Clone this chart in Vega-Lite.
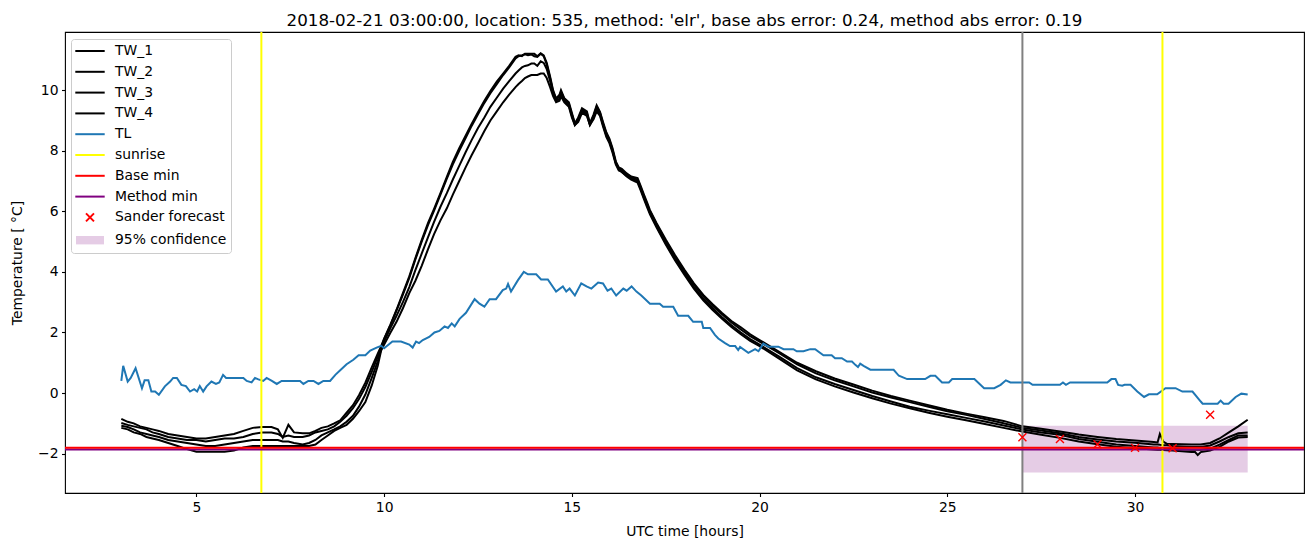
{
  "$schema": "https://vega.github.io/schema/vega-lite/v6.json",
  "width": 1239,
  "height": 461,
  "autosize": {"type": "none"},
  "padding": {"left": 65, "top": 32, "right": 9, "bottom": 54},
  "background": "white",
  "title": {"text": "2018-02-21 03:00:00, location: 535, method: 'elr', base abs error: 0.24, method abs error: 0.19", "font": "DejaVu Sans", "fontSize": 16.7, "fontWeight": "normal", "color": "black", "anchor": "middle", "baseline": "alphabetic", "offset": 8, "dy": 20},
  "config": {
    "view": {"stroke": "black", "strokeWidth": 1.1},
    "axis": {"domain": false, "grid": false, "ticks": true, "tickColor": "black", "tickSize": 3.5, "tickWidth": 1.1, "labelFont": "DejaVu Sans", "labelFontSize": 13.9, "labelColor": "black", "labelPadding": 3.5, "titleFont": "DejaVu Sans", "titleFontSize": 13.9, "titleColor": "black", "titleFontWeight": "normal"},
    "axisX": {"titlePadding": 11},
    "axisY": {"titlePadding": 13},
    "legend": {"orient": "none", "legendX": 6, "legendY": 7, "title": null, "labelFont": "DejaVu Sans", "labelFontSize": 13.9, "labelColor": "black", "symbolSize": 196, "symbolStrokeWidth": 2, "symbolOffset": 7, "labelOffset": 17, "padding": 4, "rowPadding": 5.8, "strokeColor": "#cccccc", "fillColor": "white", "cornerRadius": 3, "labelLimit": 300, "symbolOpacity": 1}
  },
  "datasets": {
    "tw": [
      {"t": 3.0, "TW_1": -0.85, "TW_2": -0.99, "TW_3": -1.08, "TW_4": -1.15},
      {"t": 3.17, "TW_1": -0.95, "TW_2": -1.05, "TW_3": -1.12, "TW_4": -1.2},
      {"t": 3.33, "TW_1": -1.0, "TW_2": -1.1, "TW_3": -1.2, "TW_4": -1.3},
      {"t": 3.5, "TW_1": -1.1, "TW_2": -1.15, "TW_3": -1.3, "TW_4": -1.35},
      {"t": 3.67, "TW_1": -1.15, "TW_2": -1.2, "TW_3": -1.35, "TW_4": -1.45},
      {"t": 3.83, "TW_1": -1.2, "TW_2": -1.3, "TW_3": -1.4, "TW_4": -1.5},
      {"t": 4.0, "TW_1": -1.25, "TW_2": -1.35, "TW_3": -1.45, "TW_4": -1.55},
      {"t": 4.25, "TW_1": -1.35, "TW_2": -1.45, "TW_3": -1.55, "TW_4": -1.65},
      {"t": 4.5, "TW_1": -1.4, "TW_2": -1.5, "TW_3": -1.6, "TW_4": -1.75},
      {"t": 4.75, "TW_1": -1.45, "TW_2": -1.55, "TW_3": -1.65, "TW_4": -1.85},
      {"t": 5.0, "TW_1": -1.5, "TW_2": -1.55, "TW_3": -1.7, "TW_4": -1.94},
      {"t": 5.25, "TW_1": -1.5, "TW_2": -1.6, "TW_3": -1.75, "TW_4": -1.94},
      {"t": 5.5, "TW_1": -1.45, "TW_2": -1.55, "TW_3": -1.75, "TW_4": -1.94},
      {"t": 5.75, "TW_1": -1.4, "TW_2": -1.5, "TW_3": -1.7, "TW_4": -1.94},
      {"t": 6.0, "TW_1": -1.35, "TW_2": -1.5, "TW_3": -1.65, "TW_4": -1.9},
      {"t": 6.25, "TW_1": -1.25, "TW_2": -1.45, "TW_3": -1.6, "TW_4": -1.8},
      {"t": 6.5, "TW_1": -1.15, "TW_2": -1.35, "TW_3": -1.55, "TW_4": -1.75},
      {"t": 6.75, "TW_1": -1.12, "TW_2": -1.3, "TW_3": -1.55, "TW_4": -1.75},
      {"t": 7.0, "TW_1": -1.12, "TW_2": -1.3, "TW_3": -1.55, "TW_4": -1.75},
      {"t": 7.17, "TW_1": -1.2, "TW_2": -1.35, "TW_3": -1.55, "TW_4": -1.75},
      {"t": 7.3, "TW_1": -1.48, "TW_2": -1.45, "TW_3": -1.6, "TW_4": -1.75},
      {"t": 7.45, "TW_1": -1.05, "TW_2": -1.4, "TW_3": -1.6, "TW_4": -1.75},
      {"t": 7.6, "TW_1": -1.3, "TW_2": -1.45, "TW_3": -1.65, "TW_4": -1.75},
      {"t": 7.83, "TW_1": -1.33, "TW_2": -1.45, "TW_3": -1.7, "TW_4": -1.75},
      {"t": 8.0, "TW_1": -1.33, "TW_2": -1.4, "TW_3": -1.65, "TW_4": -1.75},
      {"t": 8.17, "TW_1": -1.25, "TW_2": -1.3, "TW_3": -1.55, "TW_4": -1.7},
      {"t": 8.33, "TW_1": -1.15, "TW_2": -1.25, "TW_3": -1.4, "TW_4": -1.55},
      {"t": 8.5, "TW_1": -1.1, "TW_2": -1.2, "TW_3": -1.3, "TW_4": -1.4},
      {"t": 8.67, "TW_1": -1.0, "TW_2": -1.1, "TW_3": -1.2, "TW_4": -1.25},
      {"t": 8.83, "TW_1": -0.9, "TW_2": -0.95, "TW_3": -1.1, "TW_4": -1.15},
      {"t": 9.0, "TW_1": -0.65, "TW_2": -0.75, "TW_3": -0.95, "TW_4": -1.05},
      {"t": 9.17, "TW_1": -0.4, "TW_2": -0.5, "TW_3": -0.75, "TW_4": -0.85},
      {"t": 9.33, "TW_1": -0.07, "TW_2": -0.2, "TW_3": -0.45, "TW_4": -0.6},
      {"t": 9.5, "TW_1": 0.34, "TW_2": 0.2, "TW_3": -0.05, "TW_4": -0.3},
      {"t": 9.67, "TW_1": 0.85, "TW_2": 0.7, "TW_3": 0.5, "TW_4": 0.25},
      {"t": 9.83, "TW_1": 1.3, "TW_2": 1.2, "TW_3": 1.05, "TW_4": 0.9},
      {"t": 9.92, "TW_1": 1.55, "TW_2": 1.5, "TW_3": 1.45, "TW_4": 1.4},
      {"t": 10.0, "TW_1": 1.8, "TW_2": 1.78, "TW_3": 1.7, "TW_4": 1.6},
      {"t": 10.17, "TW_1": 2.27, "TW_2": 2.25, "TW_3": 2.15, "TW_4": 2.0},
      {"t": 10.33, "TW_1": 2.75, "TW_2": 2.72, "TW_3": 2.55, "TW_4": 2.35},
      {"t": 10.5, "TW_1": 3.3, "TW_2": 3.25, "TW_3": 3.0, "TW_4": 2.8},
      {"t": 10.67, "TW_1": 3.85, "TW_2": 3.8, "TW_3": 3.5, "TW_4": 3.3},
      {"t": 10.83, "TW_1": 4.45, "TW_2": 4.4, "TW_3": 4.05, "TW_4": 3.7},
      {"t": 11.0, "TW_1": 5.05, "TW_2": 5.0, "TW_3": 4.6, "TW_4": 4.2},
      {"t": 11.17, "TW_1": 5.62, "TW_2": 5.55, "TW_3": 5.15, "TW_4": 4.75},
      {"t": 11.33, "TW_1": 6.08, "TW_2": 6.02, "TW_3": 5.65, "TW_4": 5.25},
      {"t": 11.5, "TW_1": 6.6, "TW_2": 6.55, "TW_3": 6.15, "TW_4": 5.7},
      {"t": 11.67, "TW_1": 7.14, "TW_2": 7.08, "TW_3": 6.6, "TW_4": 6.1},
      {"t": 11.83, "TW_1": 7.63, "TW_2": 7.55, "TW_3": 7.05, "TW_4": 6.55},
      {"t": 12.0, "TW_1": 8.08, "TW_2": 8.0, "TW_3": 7.5, "TW_4": 7.0},
      {"t": 12.17, "TW_1": 8.5, "TW_2": 8.42, "TW_3": 7.95, "TW_4": 7.45},
      {"t": 12.33, "TW_1": 8.88, "TW_2": 8.82, "TW_3": 8.35, "TW_4": 7.85},
      {"t": 12.5, "TW_1": 9.27, "TW_2": 9.2, "TW_3": 8.75, "TW_4": 8.25},
      {"t": 12.67, "TW_1": 9.65, "TW_2": 9.58, "TW_3": 9.1, "TW_4": 8.65},
      {"t": 12.83, "TW_1": 9.97, "TW_2": 9.9, "TW_3": 9.45, "TW_4": 9.0},
      {"t": 13.0, "TW_1": 10.28, "TW_2": 10.2, "TW_3": 9.75, "TW_4": 9.3},
      {"t": 13.17, "TW_1": 10.55, "TW_2": 10.5, "TW_3": 10.05, "TW_4": 9.6},
      {"t": 13.33, "TW_1": 10.8, "TW_2": 10.75, "TW_3": 10.3, "TW_4": 9.85},
      {"t": 13.5, "TW_1": 11.1, "TW_2": 11.05, "TW_3": 10.55, "TW_4": 10.1},
      {"t": 13.58, "TW_1": 11.15, "TW_2": 11.12, "TW_3": 10.65, "TW_4": 10.2},
      {"t": 13.67, "TW_1": 11.12, "TW_2": 11.15, "TW_3": 10.75, "TW_4": 10.3},
      {"t": 13.75, "TW_1": 11.2, "TW_2": 11.18, "TW_3": 10.8, "TW_4": 10.4},
      {"t": 13.83, "TW_1": 11.2, "TW_2": 11.15, "TW_3": 10.82, "TW_4": 10.45},
      {"t": 13.92, "TW_1": 11.2, "TW_2": 11.18, "TW_3": 10.88, "TW_4": 10.5},
      {"t": 14.0, "TW_1": 11.2, "TW_2": 11.12, "TW_3": 10.88, "TW_4": 10.5},
      {"t": 14.08, "TW_1": 11.12, "TW_2": 11.1, "TW_3": 10.8, "TW_4": 10.5},
      {"t": 14.17, "TW_1": 11.22, "TW_2": 11.2, "TW_3": 10.95, "TW_4": 10.55},
      {"t": 14.25, "TW_1": 11.15, "TW_2": 11.12, "TW_3": 10.9, "TW_4": 10.55},
      {"t": 14.33, "TW_1": 10.9, "TW_2": 10.85, "TW_3": 10.7, "TW_4": 10.4},
      {"t": 14.42, "TW_1": 10.45, "TW_2": 10.4, "TW_3": 10.3, "TW_4": 10.1},
      {"t": 14.5, "TW_1": 10.0, "TW_2": 9.95, "TW_3": 9.9, "TW_4": 9.8},
      {"t": 14.58, "TW_1": 9.72, "TW_2": 9.7, "TW_3": 9.65, "TW_4": 9.6},
      {"t": 14.67, "TW_1": 9.85, "TW_2": 9.8, "TW_3": 9.72, "TW_4": 9.65},
      {"t": 14.71, "TW_1": 10.0, "TW_2": 9.95, "TW_3": 9.85, "TW_4": 9.8},
      {"t": 14.8, "TW_1": 9.73, "TW_2": 9.7, "TW_3": 9.65, "TW_4": 9.6},
      {"t": 14.92, "TW_1": 9.6, "TW_2": 9.55, "TW_3": 9.5, "TW_4": 9.45},
      {"t": 15.0, "TW_1": 9.25, "TW_2": 9.2, "TW_3": 9.15, "TW_4": 9.1},
      {"t": 15.08, "TW_1": 8.9, "TW_2": 8.9, "TW_3": 8.85, "TW_4": 8.85},
      {"t": 15.17, "TW_1": 9.1, "TW_2": 9.05, "TW_3": 9.0, "TW_4": 8.95},
      {"t": 15.27, "TW_1": 9.4, "TW_2": 9.35, "TW_3": 9.3, "TW_4": 9.25},
      {"t": 15.4, "TW_1": 9.3, "TW_2": 9.25, "TW_3": 9.2, "TW_4": 9.15},
      {"t": 15.48, "TW_1": 8.9, "TW_2": 8.9, "TW_3": 8.85, "TW_4": 8.85},
      {"t": 15.58, "TW_1": 9.2, "TW_2": 9.15, "TW_3": 9.1, "TW_4": 9.05},
      {"t": 15.66, "TW_1": 9.5, "TW_2": 9.45, "TW_3": 9.35, "TW_4": 9.3},
      {"t": 15.75, "TW_1": 9.28, "TW_2": 9.25, "TW_3": 9.2, "TW_4": 9.15},
      {"t": 15.83, "TW_1": 8.95, "TW_2": 8.9, "TW_3": 8.85, "TW_4": 8.8},
      {"t": 15.92, "TW_1": 8.6, "TW_2": 8.55, "TW_3": 8.5, "TW_4": 8.45},
      {"t": 16.0, "TW_1": 8.4, "TW_2": 8.35, "TW_3": 8.3, "TW_4": 8.25},
      {"t": 16.08, "TW_1": 8.1, "TW_2": 8.05, "TW_3": 8.0, "TW_4": 7.95},
      {"t": 16.17, "TW_1": 7.65, "TW_2": 7.6, "TW_3": 7.6, "TW_4": 7.55},
      {"t": 16.25, "TW_1": 7.45, "TW_2": 7.4, "TW_3": 7.4, "TW_4": 7.35},
      {"t": 16.33, "TW_1": 7.4, "TW_2": 7.35, "TW_3": 7.3, "TW_4": 7.3},
      {"t": 16.46, "TW_1": 7.25, "TW_2": 7.22, "TW_3": 7.18, "TW_4": 7.15},
      {"t": 16.58, "TW_1": 7.15, "TW_2": 7.12, "TW_3": 7.08, "TW_4": 7.05},
      {"t": 16.75, "TW_1": 7.1, "TW_2": 7.05, "TW_3": 7.0, "TW_4": 6.95},
      {"t": 16.83, "TW_1": 6.85, "TW_2": 6.8, "TW_3": 6.75, "TW_4": 6.7},
      {"t": 16.92, "TW_1": 6.55, "TW_2": 6.5, "TW_3": 6.45, "TW_4": 6.4},
      {"t": 17.0, "TW_1": 6.3, "TW_2": 6.25, "TW_3": 6.2, "TW_4": 6.15},
      {"t": 17.08, "TW_1": 6.04, "TW_2": 6.0, "TW_3": 5.95, "TW_4": 5.9},
      {"t": 17.25, "TW_1": 5.62, "TW_2": 5.58, "TW_3": 5.52, "TW_4": 5.48},
      {"t": 17.5, "TW_1": 5.07, "TW_2": 5.02, "TW_3": 4.95, "TW_4": 4.9},
      {"t": 17.75, "TW_1": 4.55, "TW_2": 4.5, "TW_3": 4.42, "TW_4": 4.38},
      {"t": 18.0, "TW_1": 4.07, "TW_2": 4.02, "TW_3": 3.95, "TW_4": 3.9},
      {"t": 18.25, "TW_1": 3.62, "TW_2": 3.58, "TW_3": 3.5, "TW_4": 3.45},
      {"t": 18.5, "TW_1": 3.24, "TW_2": 3.2, "TW_3": 3.12, "TW_4": 3.06},
      {"t": 18.75, "TW_1": 2.93, "TW_2": 2.88, "TW_3": 2.8, "TW_4": 2.74},
      {"t": 19.0, "TW_1": 2.64, "TW_2": 2.6, "TW_3": 2.5, "TW_4": 2.45},
      {"t": 19.25, "TW_1": 2.38, "TW_2": 2.33, "TW_3": 2.24, "TW_4": 2.18},
      {"t": 19.5, "TW_1": 2.17, "TW_2": 2.1, "TW_3": 2.0, "TW_4": 1.94},
      {"t": 19.75, "TW_1": 1.94, "TW_2": 1.88, "TW_3": 1.78, "TW_4": 1.72},
      {"t": 20.0, "TW_1": 1.75, "TW_2": 1.7, "TW_3": 1.6, "TW_4": 1.55},
      {"t": 20.5, "TW_1": 1.38, "TW_2": 1.33, "TW_3": 1.22, "TW_4": 1.15},
      {"t": 21.0, "TW_1": 1.0, "TW_2": 0.95, "TW_3": 0.82, "TW_4": 0.75},
      {"t": 21.5, "TW_1": 0.72, "TW_2": 0.65, "TW_3": 0.52, "TW_4": 0.45},
      {"t": 22.0, "TW_1": 0.48, "TW_2": 0.42, "TW_3": 0.3, "TW_4": 0.22},
      {"t": 22.5, "TW_1": 0.28, "TW_2": 0.22, "TW_3": 0.1, "TW_4": 0.02},
      {"t": 23.0, "TW_1": 0.08, "TW_2": 0.02, "TW_3": -0.1, "TW_4": -0.17},
      {"t": 23.5, "TW_1": -0.1, "TW_2": -0.15, "TW_3": -0.28, "TW_4": -0.35},
      {"t": 24.0, "TW_1": -0.25, "TW_2": -0.3, "TW_3": -0.45, "TW_4": -0.5},
      {"t": 24.5, "TW_1": -0.4, "TW_2": -0.45, "TW_3": -0.58, "TW_4": -0.65},
      {"t": 25.0, "TW_1": -0.55, "TW_2": -0.6, "TW_3": -0.7, "TW_4": -0.78},
      {"t": 25.5, "TW_1": -0.68, "TW_2": -0.72, "TW_3": -0.82, "TW_4": -0.9},
      {"t": 26.0, "TW_1": -0.8, "TW_2": -0.86, "TW_3": -0.94, "TW_4": -1.02},
      {"t": 26.5, "TW_1": -0.92, "TW_2": -1.0, "TW_3": -1.07, "TW_4": -1.15},
      {"t": 27.0, "TW_1": -1.1, "TW_2": -1.15, "TW_3": -1.2, "TW_4": -1.27},
      {"t": 27.5, "TW_1": -1.18, "TW_2": -1.24, "TW_3": -1.3, "TW_4": -1.38},
      {"t": 28.0, "TW_1": -1.27, "TW_2": -1.33, "TW_3": -1.38, "TW_4": -1.48},
      {"t": 28.5, "TW_1": -1.37, "TW_2": -1.45, "TW_3": -1.52, "TW_4": -1.6},
      {"t": 29.0, "TW_1": -1.45, "TW_2": -1.53, "TW_3": -1.61, "TW_4": -1.69},
      {"t": 29.5, "TW_1": -1.52, "TW_2": -1.6, "TW_3": -1.7, "TW_4": -1.77},
      {"t": 30.0, "TW_1": -1.57, "TW_2": -1.64, "TW_3": -1.75, "TW_4": -1.82},
      {"t": 30.5, "TW_1": -1.62, "TW_2": -1.7, "TW_3": -1.8, "TW_4": -1.86},
      {"t": 30.6, "TW_1": -1.63, "TW_2": -1.7, "TW_3": -1.8, "TW_4": -1.87},
      {"t": 30.66, "TW_1": -1.35, "TW_2": -1.71, "TW_3": -1.81, "TW_4": -1.87},
      {"t": 30.75, "TW_1": -1.6, "TW_2": -1.72, "TW_3": -1.82, "TW_4": -1.88},
      {"t": 30.85, "TW_1": -1.68, "TW_2": -1.72, "TW_3": -1.83, "TW_4": -1.89},
      {"t": 31.0, "TW_1": -1.68, "TW_2": -1.75, "TW_3": -1.84, "TW_4": -1.9},
      {"t": 31.5, "TW_1": -1.7, "TW_2": -1.78, "TW_3": -1.87, "TW_4": -1.95},
      {"t": 31.6, "TW_1": -1.7, "TW_2": -1.78, "TW_3": -1.87, "TW_4": -1.95},
      {"t": 31.67, "TW_1": -1.7, "TW_2": -1.78, "TW_3": -1.87, "TW_4": -2.05},
      {"t": 31.75, "TW_1": -1.7, "TW_2": -1.78, "TW_3": -1.87, "TW_4": -1.95},
      {"t": 32.0, "TW_1": -1.65, "TW_2": -1.73, "TW_3": -1.84, "TW_4": -1.9},
      {"t": 32.25, "TW_1": -1.5, "TW_2": -1.6, "TW_3": -1.7, "TW_4": -1.78},
      {"t": 32.5, "TW_1": -1.3, "TW_2": -1.45, "TW_3": -1.55, "TW_4": -1.6},
      {"t": 32.75, "TW_1": -1.1, "TW_2": -1.33, "TW_3": -1.4, "TW_4": -1.47},
      {"t": 33.0, "TW_1": -0.88, "TW_2": -1.3, "TW_3": -1.4, "TW_4": -1.45}
    ],
    "tl": [
      {"t": 3.0, "TL": 0.4}, {"t": 3.05, "TL": 0.9}, {"t": 3.17, "TL": 0.38}, {"t": 3.25, "TL": 0.5},
      {"t": 3.38, "TL": 0.82}, {"t": 3.55, "TL": 0.16}, {"t": 3.62, "TL": 0.42}, {"t": 3.72, "TL": 0.42},
      {"t": 3.8, "TL": 0.05}, {"t": 3.9, "TL": 0.05}, {"t": 4.0, "TL": -0.06}, {"t": 4.16, "TL": 0.22},
      {"t": 4.3, "TL": 0.38}, {"t": 4.38, "TL": 0.5}, {"t": 4.48, "TL": 0.5}, {"t": 4.6, "TL": 0.27},
      {"t": 4.72, "TL": 0.23}, {"t": 4.83, "TL": 0.05}, {"t": 4.94, "TL": 0.13}, {"t": 5.02, "TL": 0.05},
      {"t": 5.09, "TL": 0.23}, {"t": 5.18, "TL": 0.05}, {"t": 5.27, "TL": 0.22}, {"t": 5.4, "TL": 0.38},
      {"t": 5.52, "TL": 0.3}, {"t": 5.61, "TL": 0.35}, {"t": 5.71, "TL": 0.6}, {"t": 5.79, "TL": 0.5},
      {"t": 6.25, "TL": 0.5}, {"t": 6.34, "TL": 0.4}, {"t": 6.47, "TL": 0.35}, {"t": 6.56, "TL": 0.5},
      {"t": 6.65, "TL": 0.45}, {"t": 6.78, "TL": 0.4}, {"t": 6.87, "TL": 0.5}, {"t": 7.01, "TL": 0.4},
      {"t": 7.14, "TL": 0.3}, {"t": 7.27, "TL": 0.4}, {"t": 7.76, "TL": 0.4}, {"t": 7.85, "TL": 0.3},
      {"t": 7.98, "TL": 0.4}, {"t": 8.12, "TL": 0.4}, {"t": 8.25, "TL": 0.3}, {"t": 8.38, "TL": 0.4},
      {"t": 8.56, "TL": 0.4}, {"t": 8.7, "TL": 0.6}, {"t": 8.83, "TL": 0.75}, {"t": 9.0, "TL": 0.95},
      {"t": 9.18, "TL": 1.1}, {"t": 9.32, "TL": 1.25}, {"t": 9.5, "TL": 1.25}, {"t": 9.63, "TL": 1.4},
      {"t": 9.8, "TL": 1.5}, {"t": 9.92, "TL": 1.56}, {"t": 10.0, "TL": 1.48}, {"t": 10.22, "TL": 1.7},
      {"t": 10.45, "TL": 1.7}, {"t": 10.67, "TL": 1.6}, {"t": 10.76, "TL": 1.5}, {"t": 10.85, "TL": 1.7},
      {"t": 10.93, "TL": 1.65}, {"t": 11.03, "TL": 1.75}, {"t": 11.2, "TL": 1.85}, {"t": 11.34, "TL": 2.0},
      {"t": 11.47, "TL": 2.05}, {"t": 11.61, "TL": 2.2}, {"t": 11.7, "TL": 2.15}, {"t": 11.8, "TL": 2.3},
      {"t": 11.88, "TL": 2.2}, {"t": 12.01, "TL": 2.45}, {"t": 12.18, "TL": 2.65}, {"t": 12.41, "TL": 3.1},
      {"t": 12.54, "TL": 2.95}, {"t": 12.67, "TL": 2.85}, {"t": 12.81, "TL": 3.1}, {"t": 12.98, "TL": 3.1},
      {"t": 13.16, "TL": 3.4}, {"t": 13.25, "TL": 3.45}, {"t": 13.3, "TL": 3.6}, {"t": 13.38, "TL": 3.35},
      {"t": 13.56, "TL": 3.72}, {"t": 13.72, "TL": 4.0}, {"t": 13.83, "TL": 3.92}, {"t": 14.05, "TL": 3.92},
      {"t": 14.18, "TL": 3.75}, {"t": 14.36, "TL": 3.75}, {"t": 14.58, "TL": 3.35}, {"t": 14.76, "TL": 3.52},
      {"t": 14.85, "TL": 3.35}, {"t": 14.94, "TL": 3.45}, {"t": 15.08, "TL": 3.22}, {"t": 15.25, "TL": 3.62},
      {"t": 15.39, "TL": 3.52}, {"t": 15.52, "TL": 3.45}, {"t": 15.7, "TL": 3.65}, {"t": 15.83, "TL": 3.62},
      {"t": 15.95, "TL": 3.38}, {"t": 16.05, "TL": 3.45}, {"t": 16.18, "TL": 3.22}, {"t": 16.37, "TL": 3.45},
      {"t": 16.46, "TL": 3.38}, {"t": 16.59, "TL": 3.52}, {"t": 16.72, "TL": 3.35}, {"t": 16.85, "TL": 3.22},
      {"t": 17.08, "TL": 2.95}, {"t": 17.34, "TL": 2.95}, {"t": 17.43, "TL": 2.85}, {"t": 17.7, "TL": 2.85},
      {"t": 17.83, "TL": 2.55}, {"t": 18.1, "TL": 2.55}, {"t": 18.23, "TL": 2.35}, {"t": 18.46, "TL": 2.35},
      {"t": 18.5, "TL": 2.15}, {"t": 18.68, "TL": 2.15}, {"t": 18.81, "TL": 1.92}, {"t": 18.9, "TL": 1.8},
      {"t": 19.08, "TL": 1.65}, {"t": 19.21, "TL": 1.55}, {"t": 19.35, "TL": 1.55}, {"t": 19.43, "TL": 1.42},
      {"t": 19.48, "TL": 1.52}, {"t": 19.7, "TL": 1.33}, {"t": 19.88, "TL": 1.45}, {"t": 19.97, "TL": 1.38},
      {"t": 20.1, "TL": 1.63}, {"t": 20.24, "TL": 1.53}, {"t": 20.5, "TL": 1.53}, {"t": 20.64, "TL": 1.45},
      {"t": 20.9, "TL": 1.45}, {"t": 20.99, "TL": 1.38}, {"t": 21.17, "TL": 1.38}, {"t": 21.35, "TL": 1.45},
      {"t": 21.48, "TL": 1.45}, {"t": 21.7, "TL": 1.25}, {"t": 21.92, "TL": 1.25}, {"t": 22.01, "TL": 1.15},
      {"t": 22.19, "TL": 1.15}, {"t": 22.33, "TL": 1.04}, {"t": 22.46, "TL": 1.04}, {"t": 22.55, "TL": 0.93},
      {"t": 22.62, "TL": 0.86}, {"t": 22.68, "TL": 0.97}, {"t": 22.77, "TL": 0.9}, {"t": 22.95, "TL": 0.77},
      {"t": 23.57, "TL": 0.77}, {"t": 23.71, "TL": 0.57}, {"t": 23.93, "TL": 0.46}, {"t": 24.41, "TL": 0.46},
      {"t": 24.55, "TL": 0.57}, {"t": 24.68, "TL": 0.57}, {"t": 24.86, "TL": 0.35}, {"t": 25.04, "TL": 0.35},
      {"t": 25.13, "TL": 0.46}, {"t": 25.72, "TL": 0.46}, {"t": 25.98, "TL": 0.16}, {"t": 26.25, "TL": 0.16},
      {"t": 26.42, "TL": 0.27}, {"t": 26.56, "TL": 0.42}, {"t": 26.68, "TL": 0.35}, {"t": 27.18, "TL": 0.35},
      {"t": 27.27, "TL": 0.27}, {"t": 28.0, "TL": 0.27}, {"t": 28.08, "TL": 0.35}, {"t": 28.16, "TL": 0.27},
      {"t": 28.27, "TL": 0.35}, {"t": 29.26, "TL": 0.35}, {"t": 29.37, "TL": 0.46}, {"t": 29.48, "TL": 0.46},
      {"t": 29.55, "TL": 0.27}, {"t": 29.66, "TL": 0.24}, {"t": 29.72, "TL": 0.27}, {"t": 29.88, "TL": 0.27},
      {"t": 30.06, "TL": 0.05}, {"t": 30.24, "TL": -0.13}, {"t": 30.37, "TL": -0.04}, {"t": 30.59, "TL": -0.04},
      {"t": 30.81, "TL": 0.16}, {"t": 31.08, "TL": 0.16}, {"t": 31.26, "TL": 0.05}, {"t": 31.53, "TL": 0.05},
      {"t": 31.75, "TL": -0.28}, {"t": 31.8, "TL": -0.35}, {"t": 32.2, "TL": -0.35}, {"t": 32.28, "TL": -0.25},
      {"t": 32.36, "TL": -0.35}, {"t": 32.49, "TL": -0.35}, {"t": 32.68, "TL": -0.13}, {"t": 32.83, "TL": -0.02},
      {"t": 33.0, "TL": -0.05}
    ]
  },
  "layer": [
    {
      "data": {"values": [{"t0": 27, "t1": 33, "lo": -2.62, "hi": -1.08, "series": "95% confidence"}]},
      "mark": {"type": "rect"},
      "encoding": {
        "x": {"field": "t0", "type": "quantitative", "title": "UTC time [hours]", "scale": {"domain": [1.5, 34.5], "nice": false, "zero": false}, "axis": {"values": [5, 10, 15, 20, 25, 30]}},
        "x2": {"field": "t1"},
        "y": {"field": "lo", "type": "quantitative", "title": "Temperature [ °C]", "scale": {"domain": [-3.3, 11.92], "nice": false, "zero": false}, "axis": {"values": [-2, 0, 2, 4, 6, 8, 10]}},
        "y2": {"field": "hi"},
        "fill": {"field": "series", "type": "nominal", "scale": {"domain": ["TW_1", "TW_2", "TW_3", "TW_4", "TL", "sunrise", "Base min", "Method min", "Sander forecast", "95% confidence"], "range": ["transparent", "transparent", "transparent", "transparent", "transparent", "transparent", "transparent", "transparent", "transparent", "#e5cce5"]}}
      }
    },
    {
      "data": {"name": "tw"},
      "transform": [{"fold": ["TW_1", "TW_2", "TW_3", "TW_4"], "as": ["series", "v"]}],
      "mark": {"type": "line", "strokeWidth": 2},
      "encoding": {
        "x": {"field": "t", "type": "quantitative", "title": "UTC time [hours]"},
        "y": {"field": "v", "type": "quantitative", "title": "Temperature [ °C]"},
        "stroke": {"field": "series", "type": "nominal", "scale": {"domain": ["TW_1", "TW_2", "TW_3", "TW_4", "TL", "sunrise", "Base min", "Method min", "Sander forecast", "95% confidence"], "range": ["black", "black", "black", "black", "#1f77b4", "#ffff00", "#ff0000", "#800080", "#ff0000", "transparent"]}}
      }
    },
    {
      "data": {"name": "tl"},
      "transform": [{"fold": ["TL"], "as": ["series", "v"]}],
      "mark": {"type": "line", "strokeWidth": 2},
      "encoding": {
        "x": {"field": "t", "type": "quantitative", "title": "UTC time [hours]"},
        "y": {"field": "v", "type": "quantitative", "title": "Temperature [ °C]"},
        "stroke": {"field": "series", "type": "nominal"}
      }
    },
    {
      "data": {"values": [{"t": 6.73, "series": "sunrise"}, {"t": 30.73, "series": "sunrise"}]},
      "mark": {"type": "rule", "strokeWidth": 2},
      "encoding": {
        "x": {"field": "t", "type": "quantitative", "title": "UTC time [hours]"},
        "stroke": {"field": "series", "type": "nominal"}
      }
    },
    {
      "data": {"values": [{"t": 27}]},
      "mark": {"type": "rule", "strokeWidth": 2, "color": "#808080"},
      "encoding": {
        "x": {"field": "t", "type": "quantitative", "title": "UTC time [hours]"}
      }
    },
    {
      "data": {"values": [{"v": -1.86, "series": "Method min"}]},
      "mark": {"type": "rule", "strokeWidth": 2},
      "encoding": {
        "y": {"field": "v", "type": "quantitative", "title": "Temperature [ °C]"},
        "stroke": {"field": "series", "type": "nominal"}
      }
    },
    {
      "data": {"values": [{"v": -1.81, "series": "Base min"}]},
      "mark": {"type": "rule", "strokeWidth": 2},
      "encoding": {
        "y": {"field": "v", "type": "quantitative", "title": "Temperature [ °C]"},
        "stroke": {"field": "series", "type": "nominal"}
      }
    },
    {
      "data": {"values": [
        {"t": 27, "v": -1.46, "series": "Sander forecast"},
        {"t": 28, "v": -1.52, "series": "Sander forecast"},
        {"t": 29, "v": -1.69, "series": "Sander forecast"},
        {"t": 30, "v": -1.81, "series": "Sander forecast"},
        {"t": 31, "v": -1.82, "series": "Sander forecast"},
        {"t": 32, "v": -0.72, "series": "Sander forecast"}
      ]},
      "mark": {"type": "point", "size": 196, "opacity": 1, "strokeWidth": 1.4},
      "encoding": {
        "x": {"field": "t", "type": "quantitative", "title": "UTC time [hours]"},
        "y": {"field": "v", "type": "quantitative", "title": "Temperature [ °C]"},
        "stroke": {"field": "series", "type": "nominal"},
        "fill": {"field": "series", "type": "nominal"},
        "shape": {"field": "series", "type": "nominal", "scale": {"domain": ["TW_1", "TW_2", "TW_3", "TW_4", "TL", "sunrise", "Base min", "Method min", "Sander forecast", "95% confidence"], "range": ["M-2.1,0L2.1,0", "M-2.1,0L2.1,0", "M-2.1,0L2.1,0", "M-2.1,0L2.1,0", "M-2.1,0L2.1,0", "M-2.1,0L2.1,0", "M-2.1,0L2.1,0", "M-2.1,0L2.1,0", "M-0.57,-0.57L0.57,0.57M-0.57,0.57L0.57,-0.57", "M-2,-0.6L2,-0.6L2,0.6L-2,0.6Z"]}}
      }
    }
  ]
}
